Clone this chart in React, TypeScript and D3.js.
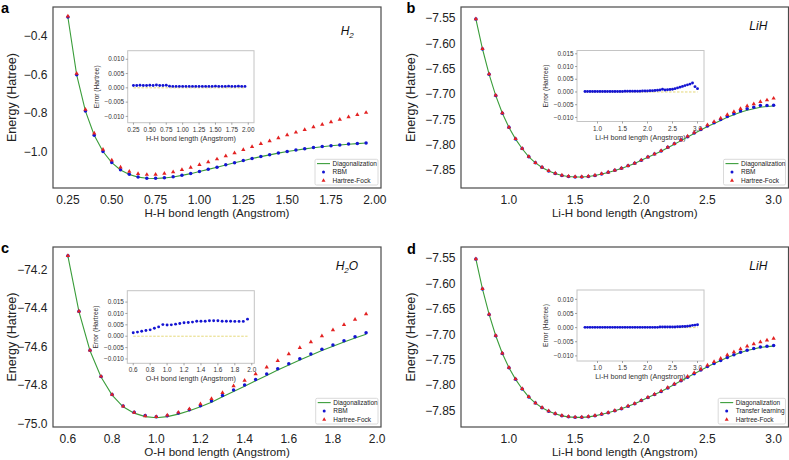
import React from "react";
import * as d3 from "d3";

// bond lengths (Angstrom)
const hhBond = [0.25, 0.3, 0.35, 0.4, 0.45, 0.5, 0.55, 0.6, 0.65, 0.7, 0.75, 0.8, 0.85, 0.9, 0.95, 1.0, 1.05, 1.1, 1.15, 1.2,
  1.25, 1.3, 1.35, 1.4, 1.45, 1.5, 1.55, 1.6, 1.65, 1.7, 1.75, 1.8, 1.85, 1.9, 1.95];
const lihBond = [0.75, 0.8, 0.85, 0.9, 0.95, 1.0, 1.05, 1.1, 1.15, 1.2, 1.25, 1.3, 1.35, 1.4, 1.45, 1.5, 1.55, 1.6, 1.65, 1.7,
  1.75, 1.8, 1.85, 1.9, 1.95, 2.0, 2.05, 2.1, 2.15, 2.2, 2.25, 2.3, 2.35, 2.4, 2.45, 2.5, 2.55, 2.6, 2.65, 2.7,
  2.75, 2.8, 2.85, 2.9, 2.95, 3.0];
const ohBond = [0.6, 0.65, 0.7, 0.75, 0.8, 0.85, 0.9, 0.95, 1.0, 1.05, 1.1, 1.15, 1.2, 1.25, 1.3, 1.35, 1.4, 1.45, 1.5, 1.55,
  1.6, 1.65, 1.7, 1.75, 1.8, 1.85, 1.9, 1.95];

// energies (Hartree)
const h2Fci = [-0.305, -0.602, -0.789, -0.914, -0.998, -1.055, -1.093, -1.116, -1.13, -1.136, -1.137, -1.134, -1.129, -1.121,
  -1.112, -1.101, -1.09, -1.079, -1.067, -1.056, -1.045, -1.034, -1.024, -1.015, -1.006, -0.998, -0.991, -0.984, -0.978,
  -0.973, -0.968, -0.964, -0.96, -0.957, -0.954];
const h2Hf = [-0.3, -0.595, -0.781, -0.904, -0.987, -1.043, -1.079, -1.101, -1.113, -1.117, -1.116, -1.111, -1.103, -1.092,
  -1.08, -1.066, -1.052, -1.037, -1.021, -1.005, -0.989, -0.973, -0.958, -0.943, -0.928, -0.913, -0.899, -0.885, -0.871,
  -0.858, -0.845, -0.832, -0.82, -0.808, -0.797];
const h2RbmErr = [0.0008, 0.0008, 0.0009, 0.0008, 0.0008, 0.0009, 0.0008, 0.001, 0.0008, 0.0008, 0.0009, 0.0006, 0.0005,
  0.0005, 0.0005, 0.0005, 0.0005, 0.0005, 0.0005, 0.0005, 0.0005, 0.0005, 0.0005, 0.0005, 0.0005, 0.0006, 0.0005, 0.0005,
  0.0005, 0.0006, 0.0005, 0.0005, 0.0006, 0.0005, 0.0005];

const lihFci = [-7.552, -7.611, -7.661, -7.703, -7.738, -7.766, -7.789, -7.808, -7.824, -7.836, -7.845, -7.852, -7.857,
  -7.861, -7.863, -7.864, -7.864, -7.863, -7.861, -7.858, -7.855, -7.851, -7.847, -7.842, -7.837, -7.831, -7.825, -7.819,
  -7.813, -7.806, -7.799, -7.792, -7.785, -7.778, -7.771, -7.764, -7.758, -7.752, -7.746, -7.741, -7.736, -7.732, -7.729,
  -7.726, -7.7245, -7.7235];
const lihHf = [-7.5515, -7.6105, -7.6605, -7.7025, -7.7375, -7.7655, -7.7885, -7.8075, -7.8235, -7.8355, -7.8445, -7.8515,
  -7.8565, -7.8605, -7.8625, -7.8635, -7.8635, -7.8625, -7.8605, -7.8575, -7.8545, -7.8505, -7.8465, -7.8415, -7.8365,
  -7.8305, -7.8243, -7.8183, -7.8122, -7.8051, -7.798, -7.7908, -7.7835, -7.7762, -7.769, -7.7612, -7.7545, -7.7478,
  -7.741, -7.735, -7.729, -7.7238, -7.7195, -7.7152, -7.712, -7.7085];
const lihRbmErr = [0.0002, 0.0002, 0.0002, 0.0002, 0.0002, 0.0002, 0.0002, 0.0002, 0.0002, 0.0002, 0.0002, 0.0002,
  0.0002, 0.0002, 0.0002, 0.0002, 0.0003, 0.0003, 0.0003, 0.0003, 0.0003, 0.0003, 0.0003, 0.0004, 0.0004, 0.0004,
  0.0005, 0.0005, 0.0006, 0.0007, 0.0008, 0.0011, 0.0008, 0.0009, 0.001, 0.0011, 0.0013, 0.0016, 0.0019, 0.0022,
  0.0025, 0.0028, 0.0031, 0.0035, 0.0021, 0.0013];
const lihTransferErr = [0.0001, 0.0001, 0.0001, 0.0001, 0.0001, 0.0001, 0.0001, 0.0001, 0.0001, 0.0001, 0.0001, 0.0001,
  0.0001, 0.0001, 0.0001, 0.0001, 0.0001, 0.0001, 0.0001, 0.0001, 0.0001, 0.0001, 0.0001, 0.0001, 0.0001, 0.0001,
  0.0001, 0.0001, 0.0001, 0.0001, 0.0002, 0.0002, 0.0002, 0.0002, 0.0002, 0.0002, 0.0002, 0.0003, 0.0003, 0.0004,
  0.0004, 0.0005, 0.0006, 0.0008, 0.0009, 0.001];

const h2oFci = [-74.131, -74.42, -74.623, -74.759, -74.853, -74.914, -74.947, -74.965, -74.971, -74.965, -74.952, -74.935,
  -74.914, -74.89, -74.862, -74.834, -74.807, -74.779, -74.751, -74.723, -74.697, -74.671, -74.646, -74.622, -74.599,
  -74.578, -74.557, -74.537];
const h2oHf = [-74.129, -74.418, -74.62, -74.756, -74.85, -74.911, -74.944, -74.962, -74.966, -74.958, -74.943, -74.925,
  -74.9, -74.872, -74.841, -74.806, -74.777, -74.744, -74.709, -74.675, -74.64, -74.607, -74.578, -74.546, -74.515,
  -74.488, -74.46, -74.432];
const h2oRbmErr = [0.0015, 0.0018, 0.0022, 0.0025, 0.0028, 0.0035, 0.0041, 0.0051, 0.0049, 0.005, 0.0053, 0.0056, 0.0059,
  0.006, 0.0062, 0.0066, 0.0066, 0.0066, 0.0068, 0.0068, 0.0068, 0.0066, 0.0066, 0.0066, 0.0065, 0.0065, 0.0065, 0.0075];

// tick values
const hhTicks = [0.25, 0.5, 0.75, 1.0, 1.25, 1.5, 1.75, 2.0];
const lihTicks = [1.0, 1.5, 2.0, 2.5, 3.0];
const ohTicks = [0.6, 0.8, 1.0, 1.2, 1.4, 1.6, 1.8, 2.0];
const h2EnergyTicks = [-1.0, -0.8, -0.6, -0.4];
const lihEnergyTicks = [-7.85, -7.8, -7.75, -7.7, -7.65, -7.6, -7.55];
const h2oEnergyTicks = [-75.0, -74.8, -74.6, -74.4, -74.2];
const errTicks = [-0.01, -0.005, 0, 0.005, 0.01];
const errTicksWide = [-0.01, -0.005, 0, 0.005, 0.01, 0.015];

const FONT = "'Liberation Sans', Arial, Helvetica, sans-serif";
const GREEN = "#3a9d3a";
const BLUE = "#1414d2";
const RED = "#e32222";
const ZERO = "#e2d46a";
const tri = d3.symbol().type(d3.symbolTriangle).size(8)();
const triSmall = d3.symbol().type(d3.symbolTriangle).size(7)();

const panels = [
  {
    letter: "a", letterX: 1, letterY: 13,
    frame: { x: 53, y: 7, w: 328, h: 181 },
    xs: hhBond, fci: h2Fci, hf: h2Hf, err: h2RbmErr, model: "RBM",
    xDomain: [0.165, 2.035], xTicks: hhTicks, xFmt: ".2f", xLabel: "H-H bond length (Angstrom)",
    yDomain: [-1.186, -0.252], yTicks: h2EnergyTicks, yFmt: ".1f", yLabelX: 15.5,
    mol: [["H", 0], ["2", 1]], molX: 340.7, molY: 35,
    legendW: 63,
    inset: { x: 127.7, y: 50.7, w: 126.3, h: 72, xDomain: [0.1625, 2.0875], xTicks: hhTicks, xFmt: ".2f",
      yDomain: [-0.0122, 0.013], yTicks: errTicks },
  },
  {
    letter: "b", letterX: 406.5, letterY: 13,
    frame: { x: 461, y: 7, w: 327.5, h: 181 },
    xs: lihBond, fci: lihFci, hf: lihHf, err: lihRbmErr, model: "RBM",
    xDomain: [0.6375, 3.1125], xTicks: lihTicks, xFmt: ".1f", xLabel: "Li-H bond length (Angstrom)",
    yDomain: [-7.8856, -7.528], yTicks: lihEnergyTicks, yFmt: ".2f", yLabelX: 414.5,
    mol: [["LiH", 0]], molX: 749.3, molY: 30,
    legendW: 62,
    inset: { x: 577, y: 50.5, w: 127, h: 71, xDomain: [0.59, 3.13], xTicks: lihTicks, xFmt: ".1f",
      yDomain: [-0.0116, 0.0163], yTicks: errTicksWide },
  },
  {
    letter: "c", letterX: 1, letterY: 253,
    frame: { x: 53, y: 247, w: 328, h: 180 },
    xs: ohBond, fci: h2oFci, hf: h2oHf, err: h2oRbmErr, model: "RBM",
    xDomain: [0.5325, 2.0175], xTicks: ohTicks, xFmt: ".1f", xLabel: "O-H bond length (Angstrom)",
    yDomain: [-75.019, -74.084], yTicks: h2oEnergyTicks, yFmt: ".1f", yLabelX: 15.5,
    mol: [["H", 0], ["2", 1], ["O", -1]], molX: 335.7, molY: 270,
    legendW: 62.3,
    inset: { x: 127.3, y: 290.7, w: 127, h: 72.6, xDomain: [0.53, 2.03], xTicks: ohTicks, xFmt: ".1f",
      yDomain: [-0.0119, 0.02], yTicks: errTicksWide },
  },
  {
    letter: "d", letterX: 407, letterY: 253.5,
    frame: { x: 461, y: 247, w: 327.5, h: 180 },
    xs: lihBond, fci: lihFci, hf: lihHf, err: lihTransferErr, model: "Transfer learning",
    xDomain: [0.6375, 3.1125], xTicks: lihTicks, xFmt: ".1f", xLabel: "Li-H bond length (Angstrom)",
    yDomain: [-7.883, -7.528], yTicks: lihEnergyTicks, yFmt: ".2f", yLabelX: 414.5,
    mol: [["LiH", 0]], molX: 749.3, molY: 269.5,
    legendW: 67.3,
    inset: { x: 577, y: 290, w: 127, h: 71, xDomain: [0.59, 3.13], xTicks: lihTicks, xFmt: ".1f",
      yDomain: [-0.0118, 0.0133], yTicks: errTicks },
  },
];

function Inset({ p }: any) {
  const b = p.inset;
  const x = d3.scaleLinear().domain(b.xDomain).range([b.x, b.x + b.w]);
  const y = d3.scaleLinear().domain(b.yDomain).range([b.y + b.h, b.y]);
  const fx = d3.format(b.xFmt);
  const fy = d3.format(".3f");
  const xs: number[] = p.xs;
  return (
    <g>
      <rect x={b.x} y={b.y} width={b.w} height={b.h} fill="#fff" stroke="#c4c4c4" strokeWidth={1} />
      <line x1={x(xs[0])} x2={x(xs[xs.length - 1])} y1={y(0)} y2={y(0)} stroke={ZERO}
        strokeWidth={0.9} strokeDasharray="2.5,1.5" />
      {p.err.map((e: number, i: number) => (
        <circle key={i} cx={x(xs[i])} cy={y(e)} r={1.45} fill={BLUE} />
      ))}
      {b.yTicks.map((t: number) => (
        <g key={t}>
          <line x1={b.x - 2} x2={b.x} y1={y(t)} y2={y(t)} stroke="#666" strokeWidth={0.6} />
          <text x={b.x - 3.5} y={y(t) + 2.2} fontSize={6.4} textAnchor="end" fill="#333">{fy(t)}</text>
        </g>
      ))}
      {b.xTicks.map((t: number) => (
        <g key={t}>
          <line x1={x(t)} x2={x(t)} y1={b.y + b.h} y2={b.y + b.h + 2} stroke="#666" strokeWidth={0.6} />
          <text x={x(t)} y={b.y + b.h + 9} fontSize={6.4} textAnchor="middle" fill="#333">{fx(t)}</text>
        </g>
      ))}
      <text x={b.x + b.w / 2} y={b.y + b.h + 18} fontSize={7.2} textAnchor="middle" fill="#333">{p.xLabel}</text>
      <text transform={`translate(${b.x - 29},${b.y + b.h / 2}) rotate(-90)`} fontSize={6.6}
        textAnchor="middle" fill="#333">Error (Hartree)</text>
    </g>
  );
}

function Panel({ p }: any) {
  const f = p.frame;
  const x = d3.scaleLinear().domain(p.xDomain).range([f.x, f.x + f.w]);
  const y = d3.scaleLinear().domain(p.yDomain).range([f.y + f.h, f.y]);
  const fx = d3.format(p.xFmt);
  const fy = d3.format(p.yFmt);
  const xs: number[] = p.xs;
  const line = d3.line<number>().x((_, i) => x(xs[i])).y((d) => y(d));
  const modelVals = p.fci.map((v: number, i: number) => v + p.err[i]);
  const lg = { x: f.x + f.w - 3 - p.legendW, y: f.y + f.h - 3 - 25.7, w: p.legendW, h: 25.7 };
  const entries = ["Diagonalization", p.model, "Hartree-Fock"];
  return (
    <g fontFamily={FONT}>
      <rect x={f.x} y={f.y} width={f.w} height={f.h} fill="#fff" stroke="#4a4a4a" strokeWidth={1.2} />
      <Inset p={p} />
      <path d={line(p.fci) || ""} fill="none" stroke={GREEN} strokeWidth={1.1} />
      {modelVals.map((v: number, i: number) => (
        <circle key={i} cx={x(xs[i])} cy={y(v)} r={1.75} fill={BLUE} />
      ))}
      {p.hf.map((v: number, i: number) => (
        <path key={i} d={tri || ""} transform={`translate(${x(xs[i])},${y(v)})`} fill={RED} />
      ))}
      {p.yTicks.map((t: number) => (
        <text key={t} x={f.x - 5.5} y={y(t) + 4.3} fontSize={12} textAnchor="end" fill="#222">{fy(t)}</text>
      ))}
      {p.xTicks.map((t: number) => (
        <text key={t} x={x(t)} y={f.y + f.h + 15.7} fontSize={12} textAnchor="middle" fill="#222">{fx(t)}</text>
      ))}
      <text x={f.x + f.w / 2} y={f.y + f.h + 29} fontSize={11.6} textAnchor="middle" fill="#222">{p.xLabel}</text>
      <text transform={`translate(${p.yLabelX},${f.y + f.h / 2}) rotate(-90)`} fontSize={12.5}
        textAnchor="middle" fill="#222">Energy (Hatree)</text>
      <text x={p.molX} y={p.molY} fontSize={12} fontStyle="italic" fill="#111">
        {p.mol.map((m: any, i: number) => (
          <tspan key={i} dy={m[1] === 1 ? 3 : m[1] === -1 ? -3 : 0} fontSize={m[1] === 1 ? 8 : 12}>{m[0]}</tspan>
        ))}
      </text>
      <g>
        <rect x={lg.x} y={lg.y} width={lg.w} height={lg.h} rx={1.5} fill="#fff" stroke="#d0d0d0" strokeWidth={0.8} />
        {entries.map((t, i) => {
          const cy = lg.y + 4.3 + i * 8.5;
          return (
            <g key={i}>
              {i === 0 && <line x1={lg.x + 2} x2={lg.x + 15} y1={cy} y2={cy} stroke={GREEN} strokeWidth={1.1} />}
              {i === 1 && <circle cx={lg.x + 8.5} cy={cy} r={1.5} fill={BLUE} />}
              {i === 2 && <path d={triSmall || ""} transform={`translate(${lg.x + 8.5},${cy})`} fill={RED} />}
              <text x={lg.x + 17.5} y={cy + 2.3} fontSize={6.5} fill="#222">{t}</text>
            </g>
          );
        })}
      </g>
      <text x={p.letterX} y={p.letterY} fontSize={14.5} fontWeight="bold" fill="#000">{p.letter}</text>
    </g>
  );
}

export default function App() {
  return (
    <svg width={789} height={460} style={{ position: "absolute", left: 0, top: 0, background: "#fff" }}>
      <rect width={789} height={460} fill="#fff" />
      {panels.map((p) => (
        <Panel key={p.letter} p={p} />
      ))}
    </svg>
  );
}
